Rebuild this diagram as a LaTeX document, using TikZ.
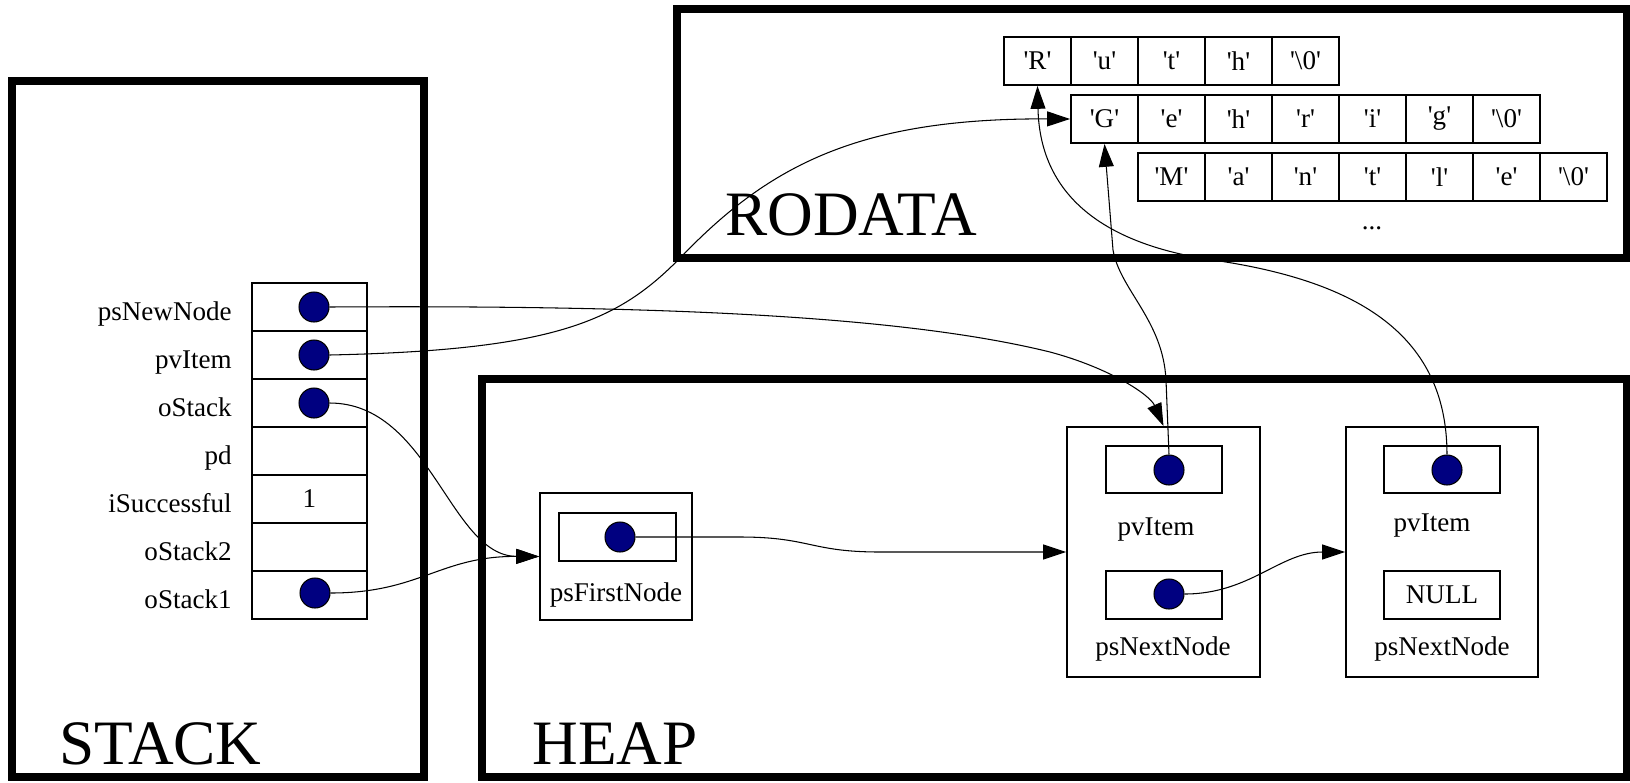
\documentclass[tikz,border=0pt]{standalone}
\usepackage{fontspec}
\setmainfont{Liberation Serif}
\usepackage{xcolor}
\usepackage{tikz}
\usetikzlibrary{arrows.meta,positioning}
\definecolor{ptrblue}{RGB}{0,0,128}
\newcommand{\qchar}[1]{\textquotesingle#1\textquotesingle}

\begin{document}
\begin{tikzpicture}[
        x=0.02cm, y=-0.02cm,
        region/.style={
            draw,
            line width=4.5pt
        },
        title/.style={
            anchor=base west,
            inner sep=0pt,
            font=\fontsize{36}{43}\selectfont
        },
        cell/.style={
            draw,
            line width=1.1pt,
            minimum width=2.3cm,
            minimum height=0.96cm,
            inner sep=0pt,
            font=\fontsize{15.4}{18}\selectfont
        },
        chr/.style={
            cell,
            minimum width=1.34cm
        },
        slot/.style={
            cell,
            minimum width=2.32cm,
            minimum height=0.95cm
        },
        box/.style={
            draw,
            line width=1.1pt,
            inner sep=0pt
        },
        ptr/.style={
            circle,
            fill=ptrblue,
            draw=black,
            line width=0.6pt,
            minimum size=0.6cm,
            inner sep=0pt
        },
        lbl/.style={
            inner sep=0pt,
            font=\fontsize{15.4}{18}\selectfont
        },
        link/.style={
            line width=0.6pt,
            -{Triangle[length=13pt,width=8.5pt]}
        }
    ]
        \useasboundingbox (0,0) rectangle (1630,782);

        % Segments
        \draw[region] (12,81) rectangle (424,777);
        \draw[region] (482,379) rectangle (1627,777);
        \draw[region] (677,9) rectangle (1627,258);
        \node[title] (tstack) at (59,764) {STACK};
        \node[title] (theap) at (532,764) {HEAP};
        \node[title] (trodata) at (725,235) {RODATA};

        % Stack frame
        \node[cell] (s1) at (309.5,307) {};
        \node[cell] (s2) at (309.5,355) {};
        \node[cell] (s3) at (309.5,403) {};
        \node[cell] (s4) at (309.5,451) {};
        \node[cell] (s5) at (309.5,499) {1};
        \node[cell] (s6) at (309.5,547) {};
        \node[cell] (s7) at (309.5,595) {};
        \node[lbl, anchor=base east] (l1) at (232,320) {psNewNode};
        \node[lbl, anchor=base east] (l2) at (232,368) {pvItem};
        \node[lbl, anchor=base east] (l3) at (232,416) {oStack};
        \node[lbl, anchor=base east] (l4) at (232,464) {pd};
        \node[lbl, anchor=base east] (l5) at (232,512) {iSuccessful};
        \node[lbl, anchor=base east] (l6) at (232,560) {oStack2};
        \node[lbl, anchor=base east] (l7) at (232,608) {oStack1};
        \node[ptr] (p1) at (314,307) {};
        \node[ptr] (p2) at (314,355) {};
        \node[ptr] (p3) at (314,403) {};
        \node[ptr] (p4) at (315,593) {};

        % Heap
        \node[box, minimum width=3.04cm, minimum height=2.54cm] (first) at (616,556.5) {};
        \node[slot, minimum width=2.34cm] (firstin) at (617.5,537) {};
        \node[ptr] (p5) at (620,537) {};
        \node[lbl, anchor=base] (lfirst) at (616,601) {psFirstNode};

        \node[box, minimum width=3.86cm, minimum height=5cm] (elem1) at (1163.5,552) {};
        \node[slot] (item1) at (1164,469.5) {};
        \node[ptr] (p6) at (1169,470) {};
        \node[lbl, anchor=base] (litem1) at (1156,535) {pvItem};
        \node[slot] (next1) at (1164,595) {};
        \node[ptr] (p7) at (1169,594) {};
        \node[lbl, anchor=base] (lnext1) at (1163,655) {psNextNode};

        \node[box, minimum width=3.84cm, minimum height=5cm] (elem2) at (1442,552) {};
        \node[slot] (item2) at (1442,469.5) {};
        \node[ptr] (p8) at (1447,470) {};
        \node[lbl, anchor=base] (litem2) at (1432,531) {pvItem};
        \node[slot] (next2) at (1442,595) {NULL};
        \node[lbl, anchor=base] (lnext2) at (1442,655) {psNextNode};

        % Read-only strings
        \node[chr] (r1) at (1037.5,61) {\qchar{R}};
        \node[chr] (r2) at (1104.5,61) {\qchar{u}};
        \node[chr] (r3) at (1171.5,61) {\qchar{t}};
        \node[chr] (r4) at (1238.5,61) {\qchar{h}};
        \node[chr] (r5) at (1305.5,61) {\qchar{\textbackslash 0}};

        \node[chr] (g1) at (1104.5,119) {\qchar{G}};
        \node[chr] (g2) at (1171.5,119) {\qchar{e}};
        \node[chr] (g3) at (1238.5,119) {\qchar{h}};
        \node[chr] (g4) at (1305.5,119) {\qchar{r}};
        \node[chr] (g5) at (1372.5,119) {\qchar{i}};
        \node[chr] (g6) at (1439.5,119) {\qchar{g}};
        \node[chr] (g7) at (1506.5,119) {\qchar{\textbackslash 0}};

        \node[chr] (m1) at (1171.5,177) {\qchar{M}};
        \node[chr] (m2) at (1238.5,177) {\qchar{a}};
        \node[chr] (m3) at (1305.5,177) {\qchar{n}};
        \node[chr] (m4) at (1372.5,177) {\qchar{t}};
        \node[chr] (m5) at (1439.5,177) {\qchar{l}};
        \node[chr] (m6) at (1506.5,177) {\qchar{e}};
        \node[chr] (m7) at (1573.5,177) {\qchar{\textbackslash 0}};
        \node[lbl, anchor=base] (more) at (1372,229) {...};

        % Pointers
        \draw[link] (p1.east) .. controls (650,305) and (900,315) .. (1050,352)
            .. controls (1110,368) and (1150,395) .. (elem1.north);
        \draw[link] (p2.east) .. controls (560,350) and (620,320) .. (683,255)
            .. controls (770,165) and (860,118) .. (g1.west);
        \draw[link] (p3.east) .. controls (430,403) and (450,556) .. (first.west);
        \draw[link] (p4.east) .. controls (420,593) and (440,556) .. (first.west);
        \draw[link] (p5.east) -- (740,537) .. controls (810,537) and (810,552) .. (880,552) -- (elem1.west);
        \draw[link] (p7.east) .. controls (1250,594) and (1280,552) .. (elem2.west);
        \draw[link] (p6.north) -- (1166,380) .. controls (1163,320) and (1120,290) .. (1113,250) -- (g1.south);
        \draw[link] (p8.north) .. controls (1447,330) and (1350,280) .. (1213,260)
            .. controls (1110,245) and (1040,200) .. (r1.south);
    \end{tikzpicture}
\end{document}
